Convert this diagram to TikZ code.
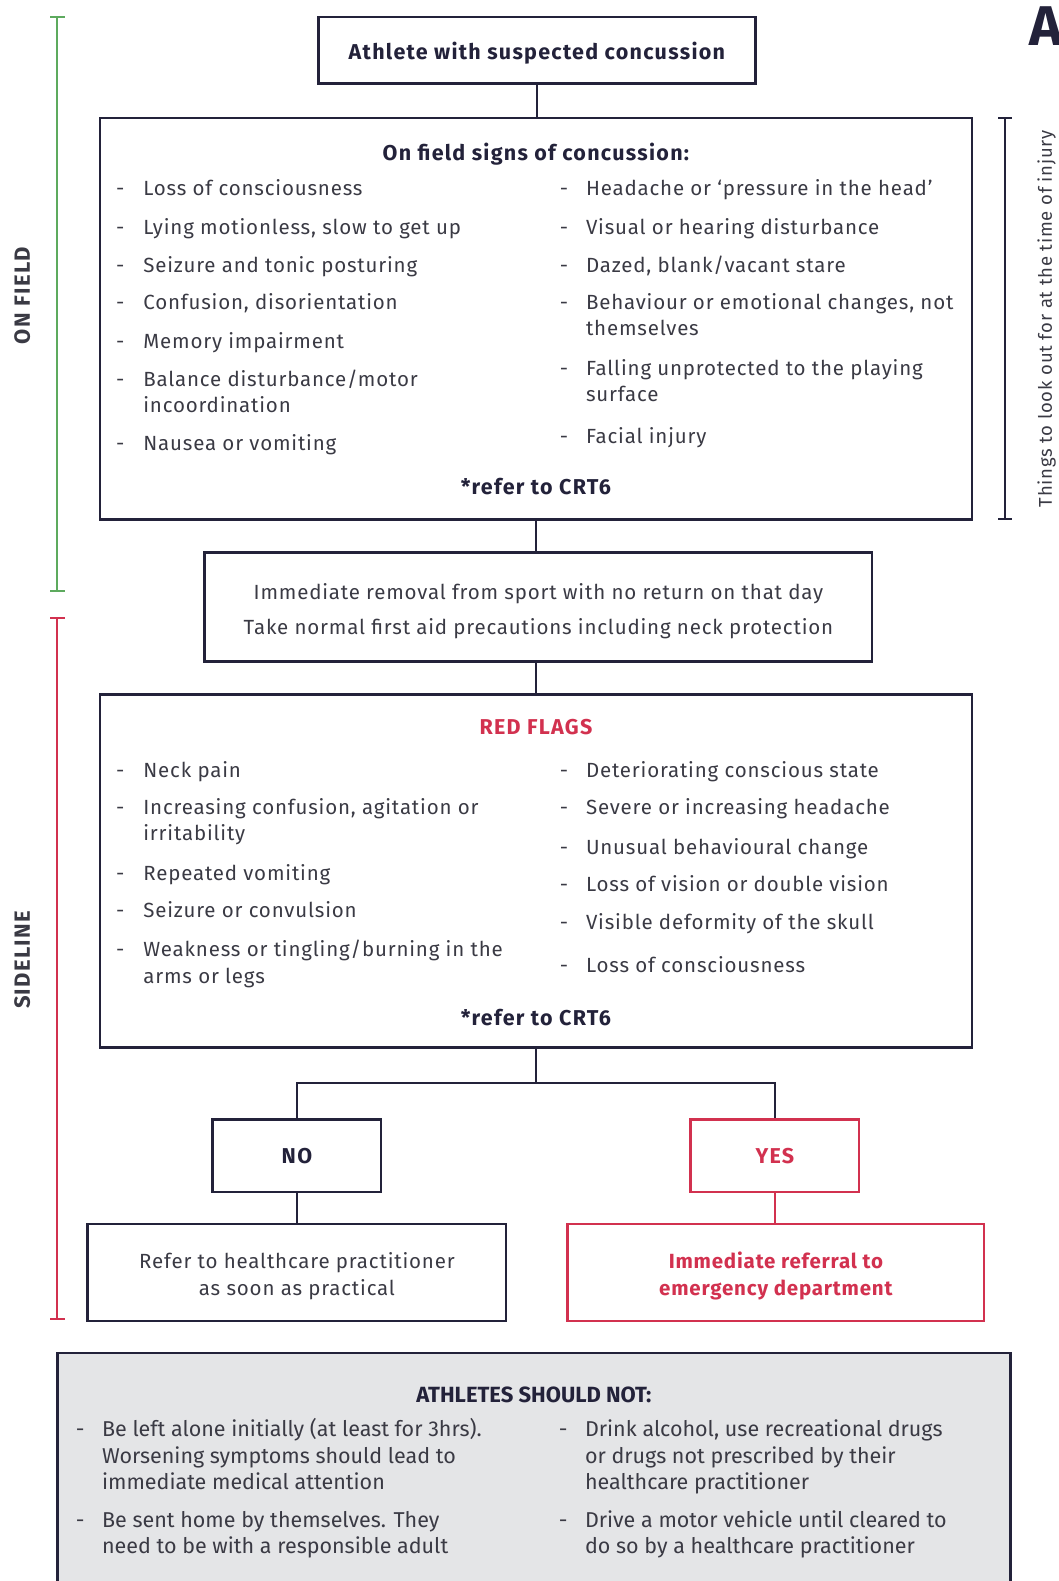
\documentclass[tikz,border=0pt]{standalone}
\usepackage{fontspec}
\usetikzlibrary{calc}
\setmainfont{Fira Sans}
\newfontfamily\regf[LetterSpace=4]{Fira Sans}
\newfontfamily\boldf[LetterSpace=6]{Fira Sans}
\definecolor{navy}{HTML}{23223A}
\definecolor{crim}{HTML}{D2314F}
\definecolor{grn}{HTML}{5DAA5E}
\definecolor{tgray}{HTML}{3A3A44}
\definecolor{boxgray}{HTML}{E4E5E7}
\newcommand\uu{1.0086pt}
\begin{document}
\begin{tikzpicture}[x=1.0086pt,y=-1.0086pt,
  box/.style={draw=navy,line width=2.6pt,inner sep=0pt},
  rbox/.style={draw=crim,line width=2.6pt,inner sep=0pt},
  conn/.style={draw=navy,line width=2.4pt},
  rconn/.style={draw=crim,line width=2.4pt},
  txt/.style={anchor=base west,inner sep=0pt,text=tgray,font=\fontsize{20.5}{23}\regf},
  ctxt/.style={anchor=base,inner sep=0pt,text=tgray,font=\fontsize{20.5}{23}\regf},
  btxt/.style={anchor=base,inner sep=0pt,text=navy,font=\fontsize{21.5}{24}\boldf\bfseries},
  gtxt/.style={anchor=base west,inner sep=0pt,text=tgray,font=\fontsize{21.5}{24}\selectfont},
  brk/.style={line width=2pt}]
\useasboundingbox (0,0) rectangle (1050,1568);

% brackets
\draw[brk,grn] (57,17) -- (57,586) (50,17) -- (64,17) (50,586) -- (64,586);
\draw[brk,crim] (57,613) -- (57,1308) (50,613) -- (64,613) (50,1308) -- (64,1308);
\draw[brk,navy] (997,117) -- (997,515) (990,117) -- (1004,117) (990,515) -- (1004,515);
\node[rotate=90,inner sep=0pt,text=tgray,font=\fontsize{22}{24}\boldf\bfseries] (lonf) at (22,293) {ON FIELD};
\node[rotate=90,inner sep=0pt,text=tgray,font=\fontsize{22}{24}\boldf\bfseries] (lside) at (22,952) {SIDELINE};
\node[rotate=90,inner sep=0pt,text=tgray,font=\fontsize{18.5}{20}\regf] (lthings) at (1038,316) {Things to look out for at the time of injury};
\node[inner sep=0pt,text=navy,font=\fontsize{56}{60}\selectfont\bfseries] (letA) at (1037,26) {A};

% boxes
\node[box,minimum width=433*\uu,minimum height=66*\uu] (top) at (532.5,50) {};
\node[btxt] (toptxt) at (532.5,59) {Athlete with suspected concussion};
\node[box,minimum width=865*\uu,minimum height=398*\uu] (onf) at (531.5,316) {};
\node[box,minimum width=662*\uu,minimum height=108*\uu] (rem) at (534,602) {};
\node[box,minimum width=865*\uu,minimum height=350*\uu] (rf) at (531.5,864) {};
\node[box,minimum width=167*\uu,minimum height=72*\uu] (no) at (294.5,1146) {};
\node[rbox,minimum width=167*\uu,minimum height=72*\uu] (yes) at (768.5,1146) {};
\node[box,minimum width=415*\uu,minimum height=96*\uu] (refer) at (294.5,1262) {};
\node[rbox,minimum width=413*\uu,minimum height=96*\uu] (imm) at (769.5,1262) {};
\node[box,fill=boxgray,minimum width=945*\uu,minimum height=250*\uu] (shouldnot) at (529.5,1467) {};

% connectors
\draw[conn] (top.south) -- (top.south |- onf.north);
\draw[conn] (onf.south) -- (onf.south |- rem.north);
\draw[conn] (onf.south |- rem.south) -- (onf.south |- rf.north);
\coordinate (split) at ($(rf.south)+(0,34)$);
\draw[conn] (rf.south) -- (split);
\draw[conn] (split) -| (no.north);
\draw[conn] (split) -| (yes.north);
\draw[conn] (no.south) -- (no.south |- refer.north);
\draw[rconn] (yes.south) -- (yes.south |- imm.north);

% on field
\node[btxt] (onft) at (531.5,159) {On field signs of concussion:};
\foreach \n/\y/\t in {a1/194/{Loss of consciousness},a2/233/{Lying motionless, slow to get up},a3/270/{Seizure and tonic posturing},a4/307/{Confusion, disorientation},a5/346/{Memory impairment},a6/383/{Balance disturbance/motor},a8/447/{Nausea or vomiting}}{
  \node[txt] (d\n) at (115,\y) {-};
  \node[txt] (\n) at (142,\y) {\t};}
\node[txt] (a7) at (142,409) {incoordination};
\foreach \n/\y/\t in {b1/194/{Headache or ‘pressure in the head’},b2/233/{Visual or hearing disturbance},b3/270/{Dazed, blank/vacant stare},b4/307/{Behaviour or emotional changes, not},b6/372/{Falling unprotected to the playing},b8/440/{Facial injury}}{
  \node[txt] (d\n) at (555,\y) {-};
  \node[txt] (\n) at (581,\y) {\t};}
\node[txt] (b5) at (581,333) {themselves};
\node[txt] (b7) at (581,398) {surface};
\node[btxt] (crt1) at (531.5,490) {*refer to CRT6};

% removal
\node[ctxt] (rem1) at (534,595) {Immediate removal from sport with no return on that day};
\node[ctxt] (rem2) at (534,629) {Take normal first aid precautions including neck protection};

% red flags
\node[btxt,text=crim] (rft) at (531.5,728) {RED FLAGS};
\foreach \n/\y/\t in {c1/771/{Neck pain},c2/808/{Increasing confusion, agitation or},c4/873/{Repeated vomiting},c5/910/{Seizure or convulsion},c6/949/{Weakness or tingling/burning in the}}{
  \node[txt] (d\n) at (115,\y) {-};
  \node[txt] (\n) at (142,\y) {\t};}
\node[txt] (c3) at (142,834) {irritability};
\node[txt] (c7) at (142,975) {arms or legs};
\foreach \n/\y/\t in {e1/771/{Deteriorating conscious state},e2/808/{Severe or increasing headache},e3/847/{Unusual behavioural change},e4/884/{Loss of vision or double vision},e5/922/{Visible deformity of the skull},e6/964/{Loss of consciousness}}{
  \node[txt] (d\n) at (555,\y) {-};
  \node[txt] (\n) at (581,\y) {\t};}
\node[btxt] (crt2) at (531.5,1017) {*refer to CRT6};

% yes/no
\node[btxt] (notxt) at (294.5,1154) {NO};
\node[btxt,text=crim] (yestxt) at (768.5,1154) {YES};
\node[ctxt] (ref1) at (294.5,1258) {Refer to healthcare practitioner};
\node[ctxt] (ref2) at (294.5,1285) {as soon as practical};
\node[btxt,text=crim,font=\fontsize{20.5}{24}\regf\bfseries] (imm1) at (769.5,1258) {Immediate referral to};
\node[btxt,text=crim,font=\fontsize{20.5}{24}\regf\bfseries] (imm2) at (769.5,1285) {emergency department};

% should not
\node[btxt,font=\fontsize{22}{24}\selectfont\bfseries] (snt) at (529.5,1391) {ATHLETES SHOULD NOT:};
\node[gtxt] (f0) at (75,1425) {-};
\node[gtxt] (f1) at (101,1425) {Be left alone initially (at least for 3hrs).};
\node[gtxt] (f2) at (101,1451) {Worsening symptoms should lead to};
\node[gtxt] (f3) at (101,1477) {immediate medical attention};
\node[gtxt] (f4) at (75,1515) {-};
\node[gtxt] (f5) at (101,1515) {Be sent home by themselves. They};
\node[gtxt] (f6) at (101,1541) {need to be with a responsible adult};
\node[gtxt] (g0) at (554,1425) {-};
\node[gtxt] (g1) at (580,1425) {Drink alcohol, use recreational drugs};
\node[gtxt] (g2) at (580,1451) {or drugs not prescribed by their};
\node[gtxt] (g3) at (580,1477) {healthcare practitioner};
\node[gtxt] (g4) at (554,1515) {-};
\node[gtxt] (g5) at (580,1515) {Drive a motor vehicle until cleared to};
\node[gtxt] (g6) at (580,1541) {do so by a healthcare practitioner};
\end{tikzpicture}
\end{document}
